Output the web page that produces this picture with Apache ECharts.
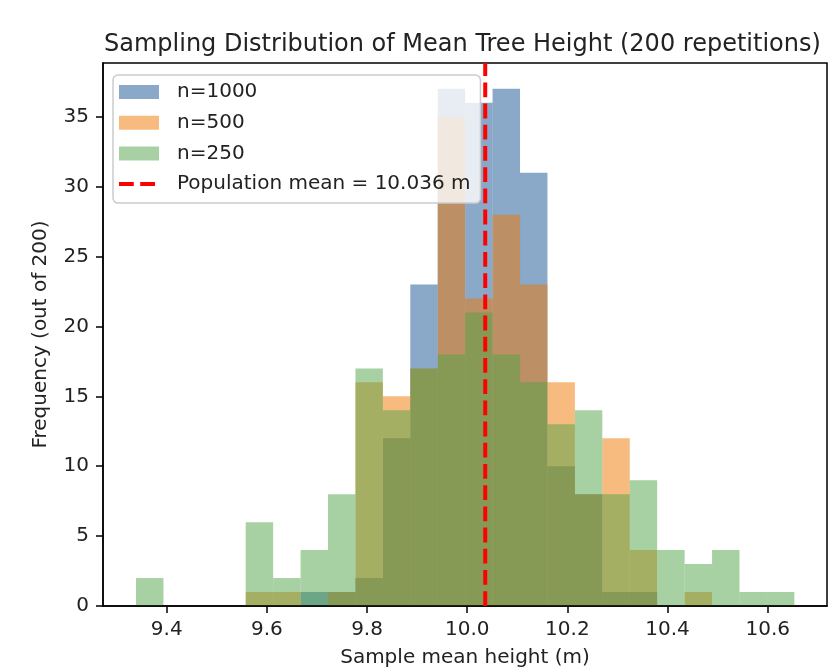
<!DOCTYPE html>
<html>
<head>
<meta charset="utf-8">
<title>Sampling Distribution of Mean Tree Height</title>
<script src="https://cdn.jsdelivr.net/npm/echarts@6/dist/echarts.min.js"></script>
<style>
    html, body { margin: 0; padding: 0; background: #fff; }
    #chart { width: 829px; height: 667px; }
</style>
</head>
<body>
<div id="chart"></div>
<script>
// Histogram bins shared by the three sample sizes
var binStart = 9.3387;
var binWidth = 0.05477;

// Counts per bin (out of 200 repetitions)
var countsN1000 = [0, 0, 0, 0, 0, 0, 1, 1, 2, 12, 23, 37, 36, 37, 31, 10, 8, 1, 1, 0, 0, 0, 0, 0];
var countsN500 = [0, 0, 0, 0, 1, 1, 0, 1, 16, 15, 17, 35, 22, 28, 23, 16, 8, 12, 4, 0, 1, 0, 0, 0];
var countsN250 = [2, 0, 0, 0, 6, 2, 4, 8, 17, 14, 17, 18, 21, 18, 16, 13, 14, 8, 9, 4, 3, 4, 1, 1];

var seriesNames = ['n=1000', 'n=500', 'n=250'];
var popMean = 10.036;
var popMeanLabel = 'Population mean = 10.036 m';

// Tick labels
var xTicks = [9.4, 9.6, 9.8, 10.0, 10.2, 10.4, 10.6];
var yTicks = [0, 5, 10, 15, 20, 25, 30, 35];

var xMin = 9.2728;
var xMax = 10.7184;
var yMax = 38.85;

var colores = ['rgba(21,81,145,0.5)', 'rgba(239,119,1,0.5)', 'rgba(81,163,71,0.5)'];
var rojo = '#ff0000';
var fuente = 'DejaVu Sans';

// Icono de linea discontinua para la leyenda (dos trazos, ancho total 40)
var iconoDiscontinuo = 'path://M0,0 h14.8 v4 h-14.8 Z M21.2,0 h14.8 v4 h-14.8 Z M40,0 L40,4';

// Convertir los conteos en barras [inicio, fin, conteo]
function construirBarras(counts) {
    return counts.map(function (c, i) {
        return [binStart + i * binWidth, binStart + (i + 1) * binWidth, c];
    });
}

function renderBarra(params, api) {
    var p0 = api.coord([api.value(0), api.value(2)]);
    var p1 = api.coord([api.value(1), 0]);
    return {
        type: 'rect',
        shape: { x: p0[0], y: p0[1], width: p1[0] - p0[0], height: p1[1] - p0[1] },
        style: { fill: api.visual('color') }
    };
}

var todasLasCuentas = [countsN1000, countsN500, countsN250];
var series = todasLasCuentas.map(function (counts, i) {
    return {
        name: seriesNames[i],
        type: 'custom',
        renderItem: renderBarra,
        itemStyle: { color: colores[i] },
        encode: { x: [0, 1], y: 2 },
        data: construirBarras(counts),
        clip: true
    };
});

// Linea de la media poblacional
series.push({
    name: popMeanLabel,
    type: 'line',
    symbol: 'none',
    data: [[popMean, 0], [popMean, yMax]],
    lineStyle: { color: rojo, width: 4, type: [14.8, 6.4] },
    itemStyle: { color: rojo }
});

var chart = echarts.init(document.getElementById('chart'));
chart.setOption({
    animation: false,
    title: {
        text: 'Sampling Distribution of Mean Tree Height (200 repetitions)',
        left: 104,
        top: 33,
        padding: 0,
        textStyle: { fontFamily: fuente, fontSize: 24, fontWeight: 'normal', color: '#222' }
    },
    legend: {
        orient: 'vertical',
        left: 113,
        top: 75,
        padding: [7, 10, 9, 6],
        itemGap: 10.7,
        itemWidth: 40,
        itemHeight: 14,
        selectedMode: false,
        backgroundColor: 'rgba(255,255,255,0.8)',
        borderColor: '#cccccc',
        borderWidth: 1.5,
        borderRadius: 5,
        textStyle: { fontFamily: fuente, fontSize: 20, color: '#222', padding: [0, 0, 0, 13] },
        data: [
            { name: seriesNames[0], icon: 'rect' },
            { name: seriesNames[1], icon: 'rect' },
            { name: seriesNames[2], icon: 'rect' },
            { name: popMeanLabel, icon: iconoDiscontinuo, itemStyle: { color: rojo, borderWidth: 0 } }
        ]
    },
    grid: {
        left: 103,
        right: 2,
        top: 63,
        bottom: 61,
        outerBoundsMode: 'none',
        show: true,
        borderColor: '#000',
        borderWidth: 1.5
    },
    xAxis: {
        type: 'value',
        min: xMin,
        max: xMax,
        z: 3,
        name: 'Sample mean height (m)',
        nameLocation: 'middle',
        nameGap: 42,
        nameTextStyle: { fontFamily: fuente, fontSize: 20, color: '#222' },
        axisLine: { show: true, lineStyle: { color: '#000', width: 1.5 } },
        axisTick: { show: true, length: 7, customValues: xTicks, lineStyle: { color: '#000', width: 1.5 } },
        axisLabel: {
            customValues: xTicks,
            margin: 14,
            fontFamily: fuente,
            fontSize: 20,
            color: '#222',
            formatter: function (v) { return v.toFixed(1); }
        },
        splitLine: { show: false }
    },
    yAxis: {
        type: 'value',
        min: 0,
        max: yMax,
        name: 'Frequency (out of 200)',
        nameLocation: 'middle',
        nameGap: 52,
        nameTextStyle: { fontFamily: fuente, fontSize: 20, color: '#222' },
        axisLine: { show: true, lineStyle: { color: '#000', width: 1.5 } },
        axisTick: { show: true, length: 7, customValues: yTicks, lineStyle: { color: '#000', width: 1.5 } },
        axisLabel: {
            customValues: yTicks,
            margin: 14,
            fontFamily: fuente,
            fontSize: 20,
            color: '#222'
        },
        splitLine: { show: false }
    },
    series: series
});
</script>
</body>
</html>
